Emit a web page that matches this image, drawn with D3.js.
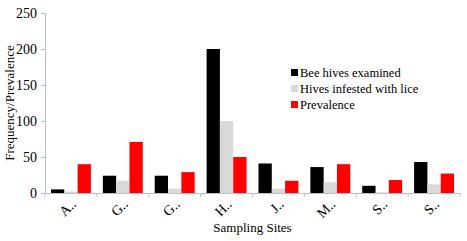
<!DOCTYPE html>
<html>
<head>
<meta charset="utf-8">
<script src="https://cdn.jsdelivr.net/npm/d3@7"></script>
<style>
body { margin: 0; background: #fff; }
</style>
</head>
<body>
<div id="chart"></div>
<script>
let sites = ["A..", "G..", "G..", "H..", "J..", "M..", "S..", "S.."];
let examined = [5, 24, 24, 200, 41, 36, 10, 43];
let infested = [2, 17, 6, 100, 6, 15, 1, 12];
let prevalence = [40, 71, 29, 50, 17, 40, 18, 27];
let seriesNames = ["Bee hives examined", "Hives infested with lice", "Prevalence"];
let colors = ["#000000", "#d9d9d9", "#ff0000"];
let yTicks = [0, 50, 100, 150, 200, 250];

let font = "Liberation Serif";
let width = 467, height = 241;
let margin = ({top: 13, right: 7, bottom: 48, left: 45});

let data = sites.map((s, i) => ({i: i, site: s, values: [examined[i], infested[i], prevalence[i]]}));

let svg = d3.select("#chart").append("svg")
    .attr("width", width)
    .attr("height", height);

let x = d3.scaleBand()
    .domain(d3.range(sites.length))
    .range([margin.left, width - margin.right]);

let x1 = d3.scaleBand()
    .domain(d3.range(3))
    .range([0, x.bandwidth()])
    .paddingInner(0)
    .paddingOuter(0.45);

let y = d3.scaleLinear()
    .domain([0, 250])
    .range([height - margin.bottom, margin.top]);

// bars
svg.append("g")
    .selectAll("g")
    .data(data)
    .join("g")
    .attr("transform", d => `translate(${x(d.i)},0)`)
    .selectAll("rect")
    .data(d => d.values)
    .join("rect")
    .attr("x", (v, j) => x1(j))
    .attr("y", v => y(v))
    .attr("width", x1.bandwidth())
    .attr("height", v => y(0) - y(v))
    .attr("fill", (v, j) => colors[j]);

// y axis
let yAxis = svg.append("g")
    .attr("transform", `translate(${margin.left},0)`)
    .call(d3.axisLeft(y).tickValues(yTicks).tickSize(4).tickPadding(4))
    .attr("font-family", font)
    .attr("font-size", 14);
yAxis.select(".domain").attr("stroke", "#bfbfbf");
yAxis.selectAll(".tick line").attr("stroke", "#bfbfbf");
yAxis.selectAll(".tick text").attr("fill", "#000");

// x axis
let xAxis = svg.append("g")
    .attr("transform", `translate(0,${y(0)})`)
    .call(d3.axisBottom(x).tickSize(0).tickFormat(""));
xAxis.select(".domain").attr("stroke", "#bfbfbf");

// x ticks between categories
svg.append("g")
    .selectAll("line")
    .data(d3.range(sites.length + 1))
    .join("line")
    .attr("x1", i => i < sites.length ? x(i) : x(i - 1) + x.bandwidth())
    .attr("x2", i => i < sites.length ? x(i) : x(i - 1) + x.bandwidth())
    .attr("y1", y(0))
    .attr("y2", y(0) + 4)
    .attr("stroke", "#bfbfbf");

// x labels rotated
svg.append("g")
    .attr("font-family", font)
    .attr("font-size", 14)
    .selectAll("text")
    .data(data)
    .join("text")
    .attr("text-anchor", "end")
    .attr("transform", d => `translate(${x(d.i) + x.bandwidth() / 2 + 6},${y(0) + 12}) rotate(-45)`)
    .text(d => d.site);

// axis titles
svg.append("text")
    .attr("x", margin.left + (width - margin.right - margin.left) / 2)
    .attr("y", 232)
    .attr("text-anchor", "middle")
    .attr("font-family", font)
    .attr("font-size", 13)
    .text("Sampling Sites");

svg.append("text")
    .attr("transform", `translate(14,${(y(0) + y(250)) / 2}) rotate(-90)`)
    .attr("text-anchor", "middle")
    .attr("font-family", font)
    .attr("font-size", 13)
    .text("Frequency/Prevalence");

// legend
let legend = svg.append("g")
    .attr("transform", "translate(291,67)")
    .selectAll("g")
    .data(seriesNames)
    .join("g")
    .attr("transform", (d, i) => `translate(0,${i * 16})`);
legend.append("rect")
    .attr("width", 7)
    .attr("height", 7)
    .attr("y", 2)
    .attr("fill", (d, i) => colors[i]);
legend.append("text")
    .attr("x", 9)
    .attr("y", 10)
    .attr("font-family", font)
    .attr("font-size", 12.5)
    .text(d => d);
</script>
</body>
</html>
